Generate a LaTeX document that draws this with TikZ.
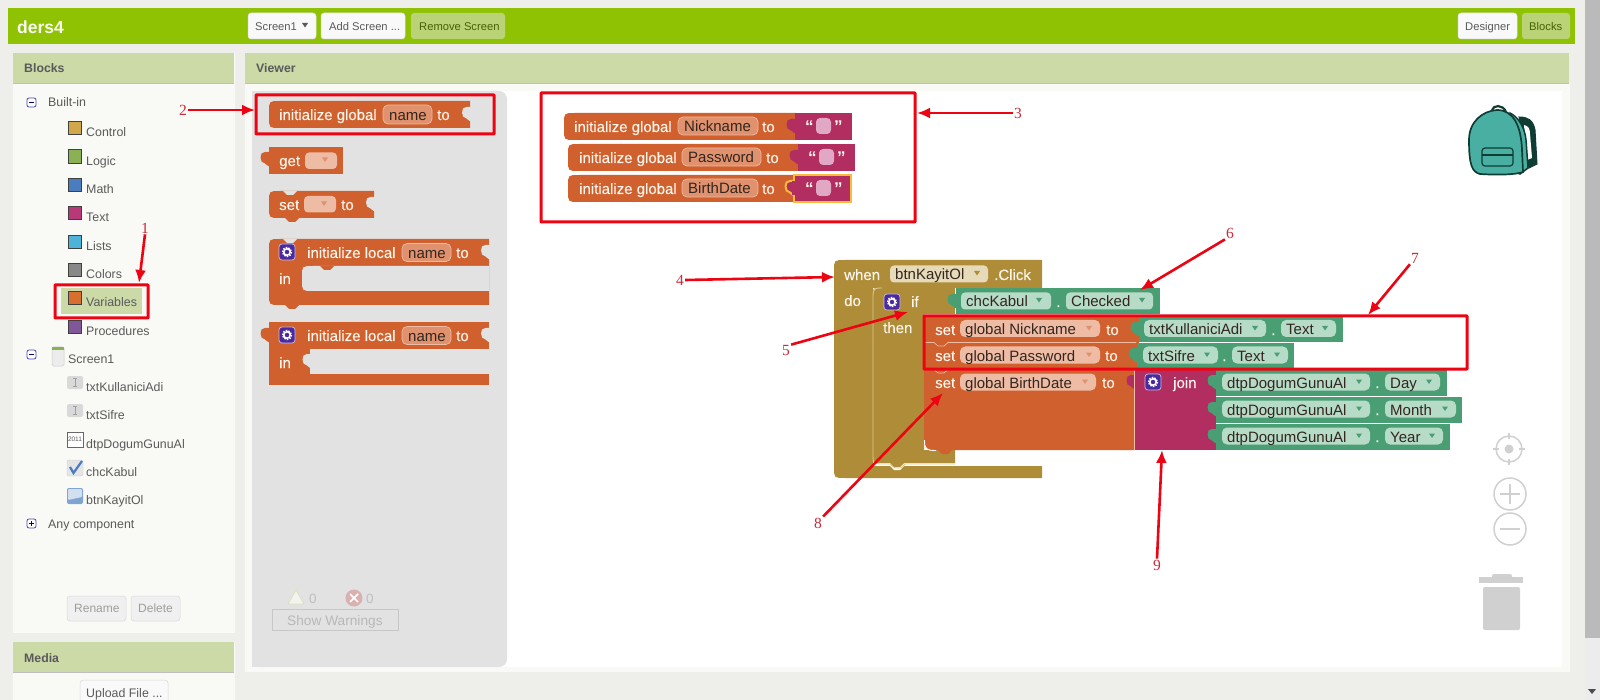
\documentclass[tikz,border=0pt]{standalone}
\usepackage{fontspec}
\usetikzlibrary{arrows.meta}
\setmainfont{Liberation Sans}
\newfontfamily\numfont{Liberation Serif}
\definecolor{pagebg}{HTML}{EEEEEB}
\definecolor{barg}{HTML}{8FC202}
\definecolor{hdrg}{HTML}{CCDAA8}
\definecolor{panel}{HTML}{F9F9F5}
\definecolor{fly}{HTML}{E2E2E2}
\definecolor{uit}{HTML}{5A5A5A}
\definecolor{ora}{HTML}{D0602D}
\definecolor{oraf}{HTML}{E0916E}
\definecolor{oraf2}{HTML}{EEBBA5}
\definecolor{mag}{HTML}{B22D60}
\definecolor{grn}{HTML}{4A9E74}
\definecolor{grnf}{HTML}{B6DBC7}
\definecolor{gold}{HTML}{AF8D38}
\definecolor{goldf}{HTML}{E6DAB9}
\definecolor{goldl}{HTML}{D8C68E}
\definecolor{btxtc}{HTML}{FBF5EC}
\definecolor{ftxtc}{HTML}{33261E}
\definecolor{redl}{HTML}{EC0412}
\definecolor{numc}{HTML}{CC2A3A}
\definecolor{purp}{HTML}{4A2A9E}
\definecolor{ctrl}{HTML}{D0D0D0}
\definecolor{teal}{HTML}{4AAFA3}
\definecolor{dteal}{HTML}{0F3D34}
\definecolor{yelo}{HTML}{F8BB3B}
\definecolor{qpink}{HTML}{E0A8C4}
\definecolor{cCtrl}{HTML}{D2A74A}
\definecolor{cLogic}{HTML}{8BB155}
\definecolor{cMath}{HTML}{4A7DBD}
\definecolor{cText}{HTML}{B8397A}
\definecolor{cLists}{HTML}{4DB3D9}
\definecolor{cColors}{HTML}{888888}
\definecolor{cVars}{HTML}{D86F2E}
\definecolor{cProcs}{HTML}{80589A}
\newcount\xc
\def\xT#1#2#3#4{\global\advance\xc by 1\relax\node[#1,anchor=base west] (t\the\xc) at (#2,#3) {#4};}
% puzzle tab pointing left from x at yc
\def\xTab#1#2#3{\path[#3] (#1+1,#2-7) -- (#1-4,#2-7) .. controls (#1-10,#2-8) and (#1-10,#2+4.5) .. (#1-4,#2+4.5) .. controls (#1-2,#2+4.5) and (#1-2,#2+8) .. (#1+1,#2+8) -- cycle;}
% block with rounded left corners
\def\xL#1#2#3#4#5{\fill[#5] (#3,#2) -- (#1+11,#2) .. controls (#1,#2) and (#1,#2) .. (#1,#2+11) -- (#1,#4-11) .. controls (#1,#4) and (#1,#4) .. (#1+11,#4) -- (#3,#4) -- cycle;}
% small downward bump
\def\xDip#1#2#3{\fill[#3] (#1-7,#2) -- (#1-3,#2+4) -- (#1+3,#2+4) -- (#1+7,#2) -- cycle;}
% field
\def\xF#1#2#3#4#5#6{\fill[#4,rounded corners=5] (#1,#3-8.5) rectangle (#2,#3+8.5); \xT{ftxt}{#1+5}{#3}{#6}\ifx\relax#5\relax\else\fill[#5] (#2-14,#3-2.5) -- (#2-8,#3-2.5) -- (#2-11,#3+2) -- cycle;\fi}
% dropdown marker at explicit place
\def\xDD#1#2#3{\fill[#3] (#1-3,#2-2.5) -- (#1+3,#2-2.5) -- (#1,#2+2) -- cycle;}
% mutator icon
\def\xGear#1#2{\fill[purp,draw=white!70!purp,line width=.7,rounded corners=3] (#1,#2) rectangle (#1+16,#2+16);
 \draw[white,line width=1.6,dash pattern=on 1.5pt off 1.2pt] (#1+8,#2+8) circle (4.4);
 \draw[white,line width=1.5] (#1+8,#2+8) circle (3.2);}
% component icon
\def\xTB#1#2{\fill[gray!30,rounded corners=2] (#1,#2) rectangle (#1+16,#2+13); \draw[gray!75,line width=.7] (#1+8,#2+2.5) -- (#1+8,#2+10.5) (#1+6,#2+2.5) -- (#1+10,#2+2.5) (#1+6,#2+10.5) -- (#1+10,#2+10.5);}
\tikzset{
 btxt/.style={font=\addfontfeature{FakeBold=0.2}\fontsize{15}{18}\selectfont,text=btxtc,inner sep=0pt,yshift=-6pt},
 ftxt/.style={font=\fontsize{15}{18}\selectfont,text=ftxtc,inner sep=0pt,yshift=-6pt},
 qtxt/.style={font=\fontsize{17}{18}\bfseries\selectfont,text=btxtc,inner sep=0pt,yshift=-6pt},
 ui/.style={font=\fontsize{12.4}{15}\selectfont,text=uit,inner sep=0pt,yshift=-5pt},
 uibtn/.style={font=\fontsize{11.2}{14}\selectfont,text=uit,inner sep=0pt,yshift=-4.5pt},
 uib/.style={font=\bfseries\fontsize{12.3}{15}\selectfont,text=uit,inner sep=0pt,yshift=-5pt},
 redbox/.style={draw=redl,line width=3pt,inner sep=0pt,fill=none,rounded corners=.5pt},
 numl/.style={font=\numfont\fontsize{15.5}{18}\selectfont,text=numc,inner sep=1pt},
 redarrow/.style={draw=redl,line width=2.6pt,-{Latex[length=13pt,width=11pt]}},
 sq/.style={draw=black!75,line width=1.2pt},
}
\begin{document}
\begin{tikzpicture}[x=1pt,y=-1pt]
\useasboundingbox (0,0) rectangle (1600,700);
\fill[pagebg] (0,0) rectangle (1600,700);
% scrollbar
\fill[gray!15] (1585,0) rectangle (1600,700);
\fill[black!27] (1585,0) rectangle (1600,638);
\fill[black!70] (1588,689) -- (1596,689) -- (1592,694) -- cycle;
% top bar
\fill[barg] (8,8) rectangle (1575,44);
\xT{font=\bfseries\fontsize{17.5}{22}\selectfont,text=white!95!barg,inner sep=0pt,yshift=-6.5pt}{17}{27}{ders4}
\fill[gray!5,draw=gray!25,line width=.5,rounded corners=3] (248,13) rectangle (316,39);
\xT{uibtn}{255}{26}{Screen1}
\xDD{305}{25.5}{uit}
\fill[gray!5,draw=gray!25,line width=.5,rounded corners=3] (321,13) rectangle (405,39);
\xT{uibtn}{329}{26}{Add Screen ...}
\fill[fill=hdrg!70!barg,rounded corners=3] (411,13) rectangle (505,39);
\xT{uibtn,text=black!50!barg}{419}{26}{Remove Screen}
\fill[gray!5,draw=gray!25,line width=.5,rounded corners=3] (1458,13) rectangle (1517,39);
\xT{uibtn}{1465}{26}{Designer}
\fill[fill=hdrg!70!barg,rounded corners=3] (1522,13) rectangle (1570,39);
\xT{uibtn,text=black!50!barg}{1529}{26}{Blocks}
% blocks panel
\fill[panel] (13,53) rectangle (235,633);
\fill[hdrg] (13,53) rectangle (234,83);
\draw[black!25,line width=.5] (13,83) -- (234,83);
\xT{uib}{24}{68}{Blocks}
% media panel
\fill[panel] (13,642) rectangle (235,700);
\fill[hdrg] (13,642) rectangle (234,672);
\draw[black!25,line width=.5] (13,672) -- (234,672);
\xT{uib}{24}{657}{Media}
\fill[gray!5,draw=gray!30,line width=.5,rounded corners=3] (80,680) rectangle (168,706);
\xT{ui}{86}{692}{Upload File ...}
% tree
\fill[fill=white,draw=blue!45!gray,line width=.8,rounded corners=2] (27,98) rectangle (36,107);
\draw[blue!50!black,line width=1] (29,102.5) -- (34,102.5);
\xT{ui}{48}{102}{Built-in}
\fill[hdrg] (61,288) rectangle (142,314);
\filldraw[fill=cCtrl,sq] (68.5,121.5) rectangle (81.5,134.5);
\xT{ui}{86}{132}{Control}
\filldraw[fill=cLogic,sq] (68.5,149.5) rectangle (81.5,163.5);
\xT{ui}{86}{160.5}{Logic}
\filldraw[fill=cMath,sq] (68.5,178.5) rectangle (81.5,191.5);
\xT{ui}{86}{189}{Math}
\filldraw[fill=cText,sq] (68.5,206.5) rectangle (81.5,219.5);
\xT{ui}{86}{217}{Text}
\filldraw[fill=cLists,sq] (68.5,235.5) rectangle (81.5,248.5);
\xT{ui}{86}{245.5}{Lists}
\filldraw[fill=cColors,sq] (68.5,263.5) rectangle (81.5,276.5);
\xT{ui}{86}{274}{Colors}
\filldraw[fill=cVars,sq] (68.5,291.5) rectangle (81.5,304.5);
\xT{ui}{86}{302}{Variables}
\filldraw[fill=cProcs,sq] (68.5,320.5) rectangle (81.5,333.5);
\xT{ui}{86}{330}{Procedures}
\fill[fill=white,draw=blue!45!gray,line width=.8,rounded corners=2] (27,350) rectangle (36,359);
\draw[blue!50!black,line width=1] (29,354.5) -- (34,354.5);
\fill[gray!15,draw=gray!40,line width=.5,rounded corners=1.5] (52,347) rectangle (64,366);
\fill[cLogic] (52,347) rectangle (64,350);
\xT{ui}{68}{358}{Screen1}
\xTB{67}{376}
\xT{ui}{86}{386}{txtKullaniciAdi}
\xTB{67}{404}
\xT{ui}{86}{414.5}{txtSifre}
\fill[white,draw=black!60,line width=.8] (67.5,432) rectangle (83,447);
\node[font=\fontsize{6.5}{7}\selectfont,text=black!65,inner sep=0pt] (yr) at (75,439.5) {2011};
\xT{ui}{86}{443}{dtpDogumGunuAl}
\fill[gray!20,draw=gray!40,line width=.4,rounded corners=2] (67,460) rectangle (83,476);
\draw[cMath,line width=2.2] (70,467) -- (73.5,473) -- (82,461);
\xT{ui}{86}{471}{chcKabul}
\fill[cMath!70!white,rounded corners=2] (67,488) rectangle (83,504);
\fill[cMath!25!white,rounded corners=1] (68,489) -- (82,489) -- (82,497) -- (68,500) -- cycle;
\xT{ui}{86}{499.5}{btnKayitOl}
\fill[fill=white,draw=blue!45!gray,line width=.8,rounded corners=2] (27,519) rectangle (36,528);
\draw[blue!50!black,line width=1] (29,523.5) -- (34,523.5) (31.5,521) -- (31.5,526);
\xT{ui}{48}{523.5}{Any component}
\fill[gray!12,draw=gray!30,line width=.5,rounded corners=3] (67,596) rectangle (126,621);
\xT{ui,font=\fontsize{12}{15}\selectfont,text=black!38}{74}{607}{Rename}
\fill[gray!12,draw=gray!30,line width=.5,rounded corners=3] (131,596) rectangle (180,621);
\xT{ui,font=\fontsize{12}{15}\selectfont,text=black!38}{138}{607}{Delete}
% viewer panel
\fill[panel] (245,83) rectangle (1570,672);
\fill[hdrg] (245,53) rectangle (1569,83);
\draw[black!25,line width=.5] (245,83) -- (1569,83);
\xT{uib}{256}{68}{Viewer}
\fill[white] (252,91) rectangle (1562,667);
\fill[fly,rounded corners=8] (252,91) rectangle (507,667);
\fill[fly] (252,91) rectangle (270,667);
% warnings
\path[draw=yellow!40!gray!45,fill=yellow!10!gray!12,line width=.8,line join=round] (296,590) -- (304,604) -- (288,604) -- cycle;
\xT{ui,text=black!25,font=\fontsize{13.5}{15}\selectfont}{309}{598}{0}
\fill[red!35!gray!45] (354,598) circle (8.5);
\draw[white,line width=1.5] (350,594) -- (358,602) (358,594) -- (350,602);
\xT{ui,text=black!25,font=\fontsize{13.5}{15}\selectfont}{366}{598}{0}
\draw[black!22,line width=1] (272.5,609.5) rectangle (398,630);
\xT{ui,text=black!28,font=\fontsize{13.7}{15}\selectfont}{287}{620}{Show Warnings}
% flyout blocks
\xL{269}{101}{470}{128}{ora}
\xTab{470.5}{114}{fill=fly}
\xT{btxt}{279}{114}{initialize global}
\fill[oraf,draw=oraf2,line width=.7,rounded corners=5] (383,105) rectangle (432,124);
\xT{ftxt}{389}{114.5}{name}
\xT{btxt}{437}{114}{to}
\fill[ora] (269,147) rectangle (343,174);
\xTab{269}{159}{fill=ora}
\xT{btxt}{279}{160}{get}
\fill[oraf2,rounded corners=4] (305,152.5) rectangle (337,169);
\xDD{325}{160}{oraf}
\xL{269}{191}{374}{218}{ora}
\xDip{292}{218}{ora}
\xDip{290}{191}{fly}
\xTab{374.5}{204}{fill=fly}
\xT{btxt}{279}{204}{set}
\fill[oraf2,rounded corners=4] (304,196) rectangle (336,212.5);
\xDD{324}{204}{oraf}
\xT{btxt}{341}{204}{to}
% local 1
\xL{269}{239}{489}{305}{ora}
\xDip{292}{305}{ora}
\xDip{290}{239}{fly}
\xL{302}{266}{489}{291}{fly}
\xDip{327}{266}{ora}
\xTab{489.5}{252}{fill=fly}
\xGear{279}{244}
\xT{btxt}{307}{252}{initialize local}
\fill[oraf,draw=oraf2,line width=.7,rounded corners=5] (402,243.5) rectangle (451,261.5);
\xT{ftxt}{408}{252.5}{name}
\xT{btxt}{456}{252}{to}
\xT{btxt}{279}{278}{in}
% local 2
\fill[ora] (269,322) rectangle (489,385);
\xTab{269}{335}{fill=ora}
\fill[fly] (310,349) rectangle (489,374);
\xTab{311}{361}{fill=fly}
\xTab{489.5}{335}{fill=fly}
\xGear{279}{327}
\xT{btxt}{307}{335}{initialize local}
\fill[oraf,draw=oraf2,line width=.7,rounded corners=5] (402,326.5) rectangle (451,344.5);
\xT{ftxt}{408}{335.5}{name}
\xT{btxt}{456}{335}{to}
\xT{btxt}{279}{362}{in}
% global variables
\xL{564}{113}{796}{140}{ora}
\xT{btxt}{574}{126}{initialize global}
\fill[oraf,draw=oraf2,line width=.7,rounded corners=5] (678,117) rectangle (758,135);
\xT{ftxt}{684}{126}{Nickname}
\xT{btxt}{762}{126}{to}
\fill[mag] (795,113) rectangle (852,140);
\xTab{795}{126}{fill=mag}
\fill[qpink,rounded corners=4] (816,118) rectangle (831,134);
\xT{qtxt}{805}{127}{“}
\xT{qtxt}{834}{127}{”}
\xL{568}{144}{799}{171}{ora}
\xT{btxt}{579}{157}{initialize global}
\fill[oraf,draw=oraf2,line width=.7,rounded corners=5] (682,148) rectangle (761,166);
\xT{ftxt}{688}{157}{Password}
\xT{btxt}{766}{157}{to}
\fill[mag] (798,144) rectangle (855,171);
\xTab{798}{157}{fill=mag}
\fill[qpink,rounded corners=4] (819,149) rectangle (834,165);
\xT{qtxt}{808}{158}{“}
\xT{qtxt}{837}{158}{”}
\xL{568}{175}{795}{202}{ora}
\xT{btxt}{579}{188}{initialize global}
\fill[oraf,draw=oraf2,line width=.7,rounded corners=5] (682,179) rectangle (758,197);
\xT{ftxt}{688}{188}{BirthDate}
\xT{btxt}{762}{188}{to}
\xTab{794}{188}{fill=mag,draw=yelo,line width=2pt}
\filldraw[fill=mag,draw=yelo,line width=2pt] (794,175) rectangle (851,202);
\fill[mag] (792,181.5) rectangle (796,195.5);
\fill[qpink,rounded corners=4] (816,180) rectangle (831,196);
\xT{qtxt}{805}{189}{“}
\xT{qtxt}{834}{189}{”}
% event block
\fill[gold] (1042,260) -- (845,260) .. controls (834,260) and (834,260) .. (834,271) -- (834,467) .. controls (834,478) and (834,478) .. (845,478) -- (1042,478) -- (1042,466) -- (873,466) -- (873,288) -- (1042,288) -- cycle;
\xDip{897}{466}{white}
\fill[gold] (955,288) -- (880,288) .. controls (873,288) and (873,288) .. (873,295) -- (873,456) .. controls (873,463) and (873,463) .. (880,463) -- (955,463) -- (955,450) -- (924,450) -- (924,314) -- (955,314) -- cycle;
\draw[goldl,line width=.9] (882,288) .. controls (874,288) and (873,289) .. (873,297) -- (873,456) .. controls (873,463) and (874,464) .. (882,464) -- (890,464) -- (895,468) -- (901,468) -- (905,464) -- (955,464);
\xDip{897}{463}{gold}
\xT{btxt}{844}{274}{when}
\fill[goldf,rounded corners=4] (890,265.5) rectangle (988,282.5);
\xT{ftxt}{895}{274}{btnKayitOl}
\xDD{977}{273.5}{gold}
\xT{btxt}{994}{274}{.Click}
\xT{btxt}{844}{300}{do}
\xGear{884}{294}
\xT{btxt}{911}{301}{if}
\xT{btxt}{883}{327}{then}
% condition
\fill[grn] (956,288) rectangle (1160,314);
\xTab{956}{301}{fill=grn}
\fill[grnf,rounded corners=4] (961,292.5) rectangle (1051,309.5);
\xT{ftxt}{966}{301}{chcKabul}
\xDD{1039}{300.5}{grn}
\xT{btxt}{1056}{301}{.}
\fill[grnf,rounded corners=4] (1066,292.5) rectangle (1153,309.5);
\xT{ftxt}{1071}{301}{Checked}
\xDD{1142}{300.5}{grn}
% sets
\fill[ora] (930,316) -- (1139,316) -- (1139,342) -- (924,342) -- (924,322) .. controls (924,316) and (924,316) .. (930,316) -- cycle;
\fill[ora] (924,342) rectangle (1139,369);
\fill[ora] (931,369) -- (1135,369) -- (1135,450) -- (934,450) .. controls (926,450) and (924,448) .. (924,440) -- (924,369) -- cycle;
\draw[white,line width=.9] (924.5,440) .. controls (924.5,449) and (926,450.5) .. (936,450.5);
\xDip{945}{450}{ora}
\draw[oraf2,line width=.7] (924,342.5) -- (934,342.5) -- (938,346) -- (944,346) -- (948,342.5) -- (1136,342.5);
\draw[oraf2,line width=.7] (924,369.5) -- (934,369.5) -- (938,373) -- (944,373) -- (948,369.5) -- (1133,369.5);
\xT{btxt}{935}{329}{set}
\xF{960}{1100}{328.5}{oraf2}{oraf}{global Nickname}
\xT{btxt}{1106}{329}{to}
\xT{btxt}{935}{355}{set}
\xF{960}{1100}{355}{oraf2}{oraf}{global Password}
\xT{btxt}{1105}{355}{to}
\xT{btxt}{935}{382}{set}
\xF{960}{1096}{382}{oraf2}{oraf}{global BirthDate}
\xT{btxt}{1102}{382}{to}
% green values rows
\fill[grn] (1139,317) rectangle (1343,342);
\xTab{1139}{329}{fill=grn}
\xF{1144}{1266}{328.5}{grnf}{grn}{txtKullaniciAdi}
\xT{btxt}{1271}{329}{.}
\xF{1281}{1336}{328.5}{grnf}{grn}{Text}
\fill[grn] (1137,343) rectangle (1294,369);
\xTab{1137}{355}{fill=grn}
\xF{1143}{1218}{355}{grnf}{grn}{txtSifre}
\xT{btxt}{1222}{355}{.}
\xF{1232}{1288}{355}{grnf}{grn}{Text}
% join
\fill[mag] (1135,369) rectangle (1216,450);
\xTab{1135}{382}{fill=mag}
\draw[oraf2,line width=.7] (1134.5,369) -- (1134.5,450);
\xGear{1145}{374}
\xT{btxt}{1173}{382}{join}
\fill[grn] (1216,369.5) rectangle (1447,396);
\xTab{1216}{382}{fill=grn}
\xF{1222}{1370}{382}{grnf}{grn}{dtpDogumGunuAl}
\xT{btxt}{1375}{382}{.}
\xF{1385}{1440}{382}{grnf}{grn}{Day}
\fill[grn] (1216,396.5) rectangle (1462,423);
\xTab{1216}{409}{fill=grn}
\xF{1222}{1370}{409}{grnf}{grn}{dtpDogumGunuAl}
\xT{btxt}{1375}{409}{.}
\xF{1385}{1456}{409}{grnf}{grn}{Month}
\fill[grn] (1216,423.5) rectangle (1450,450);
\xTab{1216}{436}{fill=grn}
\xF{1222}{1370}{436}{grnf}{grn}{dtpDogumGunuAl}
\xT{btxt}{1375}{436}{.}
\xF{1385}{1443}{436}{grnf}{grn}{Year}
% backpack
\filldraw[fill=dteal,draw=dteal,line width=1] (1519,117) .. controls (1528,117) and (1533,120) .. (1535,130) -- (1537,164) -- (1529,168) -- cycle;
\fill[white] (1524,125) .. controls (1528,126) and (1530,128) .. (1530,134) -- (1532,158) -- (1527,160) -- cycle;
\filldraw[fill=teal,draw=dteal,line width=1.5] (1510,113) .. controls (1520,118) and (1525,130) .. (1526,140) -- (1528,168) -- (1520,174) -- (1510,170) -- cycle;
\draw[dteal,line width=2.2] (1492,110) .. controls (1493,105) and (1503,104) .. (1506,112);
\filldraw[fill=teal,draw=dteal,line width=1.7] (1480,174) .. controls (1472,172) and (1469,165) .. (1469,140) .. controls (1469,122) and (1482,111) .. (1497,110) .. controls (1513,110) and (1521,125) .. (1522,150) -- (1523,172) .. controls (1515,175) and (1495,175) .. (1480,174) -- cycle;
\draw[dteal,line width=1.2,rounded corners=3] (1482,148) rectangle (1513,166);
\draw[dteal,line width=1.2] (1482,155) -- (1513,155);
% controls
\draw[ctrl,line width=1.5] (1509,449) circle (13);
\fill[ctrl] (1509,449) circle (4.5);
\draw[ctrl,line width=1.5] (1509,433) -- (1509,439) (1509,459) -- (1509,465) (1493,449) -- (1499,449) (1519,449) -- (1525,449);
\draw[ctrl,line width=1.5] (1510,494) circle (16);
\draw[ctrl,line width=1.5] (1500,494) -- (1520,494) (1510,484) -- (1510,504);
\draw[ctrl,line width=1.5] (1510,529) circle (16);
\draw[ctrl,line width=1.5] (1500,529) -- (1520,529);
\fill[ctrl,rounded corners=2] (1492,574) rectangle (1512,582);
\fill[ctrl] (1479,577) rectangle (1523,583);
\fill[ctrl,rounded corners=2] (1483,587) -- (1520,587) -- (1520,630) -- (1483,630) -- cycle;
% red boxes
\node[redbox,minimum width=93pt,minimum height=33pt] (box1) at (101.5,301.5) {};
\node[redbox,minimum width=238pt,minimum height=39pt] (box2) at (375,114.5) {};
\node[redbox,minimum width=374pt,minimum height=129pt] (box3) at (728,157.5) {};
\node[redbox,minimum width=543pt,minimum height=53pt] (box7) at (1195.5,342.5) {};
% numbers
\node[numl] (n1) at (145,228) {1};
\node[numl] (n2) at (183,110) {2};
\node[numl] (n3) at (1018,113) {3};
\node[numl] (n4) at (680,280) {4};
\node[numl] (n5) at (786,351) {5};
\node[numl] (n6) at (1230,233) {6};
\node[numl] (n7) at (1415,258) {7};
\node[numl] (n8) at (818,523) {8};
\node[numl] (n9) at (1157,565) {9};
% arrow targets
\coordinate (a1) at (139,283);
\coordinate (a2) at (255,110);
\coordinate (a3) at (917,113);
\coordinate (a4) at (835,277);
\coordinate (a5) at (908,312);
\coordinate (a6) at (1140,290);
\coordinate (a7) at (1368,315);
\coordinate (a8) at (943,393);
\coordinate (a9) at (1162,450);
\draw[redarrow] (n1.south) -- (a1);
\draw[redarrow] (n2.east) -- (a2);
\draw[redarrow] (n3.west) -- (a3);
\draw[redarrow] (n4.east) -- (a4);
\draw[redarrow] (n5.north east) -- (a5);
\draw[redarrow] (n6.south west) -- (a6);
\draw[redarrow] (n7.south west) -- (a7);
\draw[redarrow] (n8.north east) -- (a8);
\draw[redarrow] (n9.north) -- (a9);
\end{tikzpicture}
\end{document}
